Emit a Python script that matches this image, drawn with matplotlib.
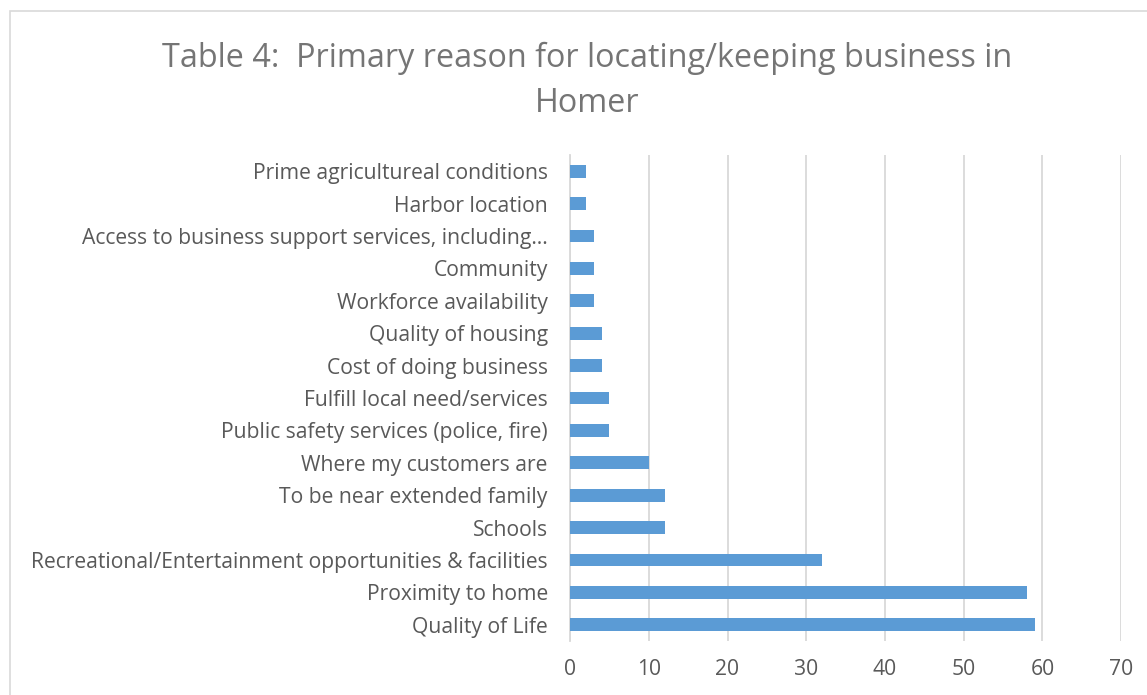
import matplotlib.pyplot as plt
from matplotlib.patches import Rectangle

plt.rcParams['font.family'] = ['Open Sans', 'DejaVu Sans']

# survey answers, listed bottom to top
reasons = ['Quality of Life', 'Proximity to home',
           'Recreational/Entertainment opportunities & facilities',
           'Schools', 'To be near extended family', 'Where my customers are',
           'Public safety services (police, fire)', 'Fulfill local need/services',
           'Cost of doing business', 'Quality of housing', 'Workforce availability',
           'Community', 'Access to business support services, including\u2026',
           'Harbor location', 'Prime agricultureal conditions']
counts = [59, 58, 32, 12, 12, 10, 5, 5, 4, 4, 3, 3, 3, 2, 2]
xticks = [0, 10, 20, 30, 40, 50, 60, 70]

text_col = '#595959'
grid_col = '#d9d9d9'
bar_col = '#5b9bd5'

fig = plt.figure(figsize=(11.47, 6.95), dpi=100)
ax = fig.add_axes([0.497, 0.0777, 0.4805, 0.6993])

ax.barh(range(len(reasons)), counts, height=0.39, color=bar_col, zorder=3)
ax.set_ylim(-0.5, len(reasons) - 0.5)
ax.set_xlim(0, 70)
ax.set_xticks(xticks)
ax.set_yticks(range(len(reasons)))
ax.set_yticklabels(reasons)
ax.tick_params(axis='both', length=0, labelsize=15.2, labelcolor=text_col)
ax.tick_params(axis='y', pad=16)
ax.tick_params(axis='x', pad=13)
ax.grid(axis='x', color=grid_col, linewidth=1.3, zorder=0)
for side in ['top', 'right', 'bottom']:
    ax.spines[side].set_visible(False)
ax.spines['left'].set_color(grid_col)
ax.spines['left'].set_linewidth(1.3)

fig.text(0.512, 0.916, 'Table 4:  Primary reason for locating/keeping business in',
         ha='center', va='center', fontsize=23.3, color='#757575')
fig.text(0.512, 0.851, 'Homer', ha='center', va='center', fontsize=23.3, color='#757575')

# chart area frame
fig.patches.append(Rectangle((10 / 1147, -0.1), 1.2, 1.1 - 11 / 695, transform=fig.transFigure,
                             fill=False, edgecolor=grid_col, linewidth=1.2))

fig.savefig('out.png', dpi=100)
